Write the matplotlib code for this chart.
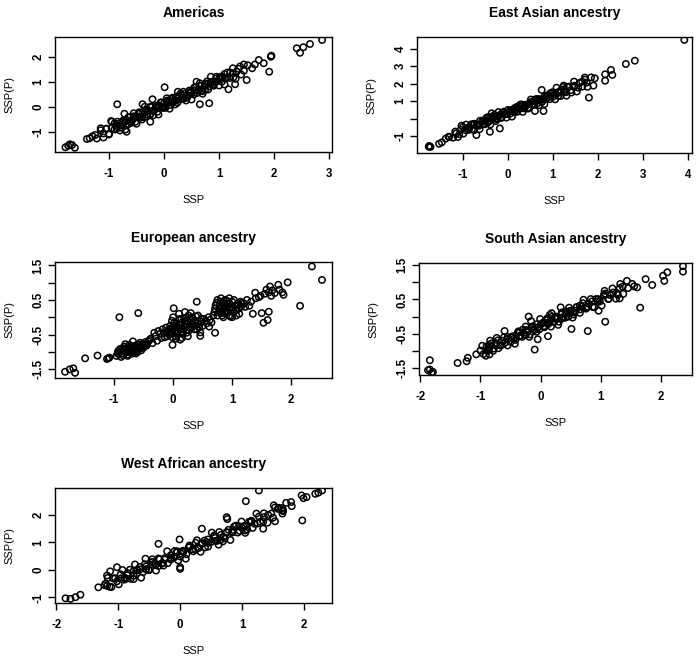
import matplotlib
matplotlib.use("Agg")
import matplotlib.pyplot as plt

plt.rcParams['font.family'] = ['Liberation Sans', 'DejaVu Sans']

# ---------------- data (SSP, SSP(P)) ----------------
americas = [(-1.30,-1.17),(-1.22,-1.26),(-1.15,-0.93),(-1.10,-1.06),(-1.05,-0.87),(-1.00,-1.07),(-0.95,-0.85),(-0.90,-0.66),(-0.86,-0.86),(-0.82,-0.67),(-0.78,-0.83),(-0.74,-0.54),(-0.70,-0.57),(-0.66,-0.70),(-0.62,-0.40),(-0.58,-0.54),(-0.55,-0.37),(-0.52,-0.59),(-0.48,-0.38),(-0.45,-0.21),(-0.42,-0.42),(-0.38,-0.23),(-0.35,-0.40),(-0.32,-0.12),(-0.28,-0.15),(-0.25,-0.29),(-0.22,0.00),(-0.18,-0.14),(-0.15,0.03),(-0.12,-0.19),(-0.09,0.01),(-0.06,0.18),(-0.03,-0.03),(0.00,0.15),(0.03,-0.02),(0.06,0.26),(0.09,0.22),(0.12,0.08),(0.15,0.37),(0.18,0.22),(0.21,0.39),(0.24,0.17),(0.27,0.37),(0.30,0.54),(0.34,0.34),(0.38,0.53),(0.42,0.37),(0.46,0.66),(0.50,0.63),(0.54,0.50),(0.58,0.80),(0.62,0.66),(0.66,0.84),(0.70,0.63),(0.74,0.84),(0.78,1.02),(0.82,0.82),(0.86,1.01),(0.90,0.85),(0.95,1.15),(1.00,1.13),(1.05,1.01),(1.10,1.32),(1.15,1.19),(1.20,1.38),(1.26,1.19),(1.32,1.42),(1.38,1.62),(1.45,1.45),(1.52,1.67),(1.60,1.55),
            (-0.80,-0.74),(-0.68,-0.52),(-0.60,-0.58),(-0.50,-0.39),(-0.40,-0.41),(-0.30,-0.16),(-0.20,-0.15),(-0.10,0.07),(0.01,0.04),(0.10,0.20),(0.20,0.26),(0.32,0.48),(0.44,0.46),(0.56,0.67),(0.68,0.67),(0.80,0.94),(0.92,0.97),(1.02,1.19),(1.12,1.15),(1.25,1.35),
            (-1.15,-0.85),(-1.10,-1.22),(-1.05,-0.87),(-1.00,-1.10),(-0.95,-0.59),(-0.90,-0.90),(-0.85,-0.59),(-0.80,-0.94),(-0.75,-0.62),(-0.70,-0.90),(-0.65,-0.42),(-0.60,-0.64),(-0.55,-0.25),(-0.50,-0.67),(-0.45,-0.27),(-0.40,-0.50),(-0.35,0.01),(-0.30,-0.30),(-0.25,0.01),(-0.20,-0.34),(-0.15,-0.02),(-0.10,-0.30),(-0.05,0.18),(0.00,-0.04),(0.05,0.35),(0.10,-0.07),(0.15,0.33),(0.20,0.10),(0.25,0.61),(0.30,0.30),(0.35,0.61),(0.40,0.26),(0.45,0.58),(0.50,0.30),(0.55,0.78),(0.60,0.56),(0.65,0.95),(0.70,0.53),(0.75,0.93),(0.80,0.70),(0.85,1.21),(0.90,0.90),(0.95,1.21),(1.00,0.86),(1.05,1.18),(1.10,0.90),(1.15,1.38),(1.20,1.16),(1.25,1.55),(1.30,1.13),(1.35,1.53),(1.40,1.30),(1.45,1.70),
            (-0.85,-0.77),(-0.75,-0.57),(-0.65,-0.67),(-0.55,-0.43),(-0.45,-0.42),(-0.35,-0.15),(-0.25,-0.30),(-0.15,0.00),(-0.05,0.01),(0.05,0.22),(0.15,0.23),(0.25,0.43),(0.35,0.33),(0.45,0.57),(0.55,0.58),(0.65,0.85),(0.75,0.70),(0.85,1.00),(0.95,1.01),(1.05,1.22),
            (2.87,2.68),(2.65,2.52),(2.53,2.39),(2.41,2.35),(2.47,2.17),(1.95,2.05),(1.94,2.01),(1.91,1.41),(1.72,1.88),(1.81,1.75),(1.65,1.70),(1.50,1.08),(1.17,0.71),(1.29,0.91),(0.59,1.01),(0.65,0.11),(0.82,0.15),(0.01,0.79),(-0.21,0.31),(-0.85,0.11),(-0.39,0.11),(-0.72,-0.27),(-0.96,-0.56),(-0.25,-0.59),(-0.68,-0.99),(-1.35,-1.25),(-1.25,-1.12),(-1.40,-1.28),(-1.71,-1.49),(-1.79,-1.61),(-1.62,-1.63),(-1.67,-1.52),(-1.74,-1.55)]

east_asian = [(-1.30,-1.05),(-1.22,-1.10),(-1.15,-0.85),(-1.08,-0.90),(-1.00,-0.49),(-0.93,-0.68),(-0.86,-0.49),(-0.80,-0.62),(-0.74,-0.30),(-0.68,-0.39),(-0.62,-0.13),(-0.56,-0.33),(-0.50,-0.10),(-0.45,-0.24),(-0.40,0.07),(-0.35,-0.04),(-0.30,0.21),(-0.25,0.00),(-0.20,0.17),(-0.15,0.03),(-0.10,0.34),(-0.05,0.24),(0.00,0.49),(0.05,0.28),(0.10,0.50),(0.15,0.36),(0.20,0.67),(0.25,0.56),(0.30,0.81),(0.35,0.60),(0.40,0.77),(0.45,0.63),(0.50,0.94),(0.55,0.84),(0.60,1.09),(0.65,0.88),(0.70,1.10),(0.76,0.97),(0.82,1.29),(0.88,1.19),(0.94,1.45),(1.00,1.25),(1.06,1.43),(1.12,1.30),(1.18,1.62),(1.25,1.54),(1.32,1.81),(1.40,1.63),(1.48,1.88),(1.56,1.77),(1.65,2.12),(1.75,2.06),(1.85,2.36),
              (-0.90,-0.57),(-0.77,-0.35),(-0.65,-0.37),(-0.53,-0.15),(-0.42,-0.16),(-0.32,0.11),(-0.22,0.09),(-0.12,0.33),(-0.02,0.27),(0.08,0.45),(0.18,0.51),(0.28,0.70),(0.38,0.66),(0.48,0.86),(0.58,0.84),(0.68,1.11),(0.79,1.10),(0.91,1.36),
              (-1.17,-0.75),(-1.11,-1.06),(-1.05,-0.65),(-0.99,-0.87),(-0.93,-0.35),(-0.87,-0.65),(-0.81,-0.33),(-0.75,-0.67),(-0.69,-0.34),(-0.63,-0.61),(-0.57,-0.12),(-0.51,-0.33),(-0.45,0.07),(-0.39,-0.34),(-0.33,0.07),(-0.27,-0.15),(-0.21,0.37),(-0.15,0.07),(-0.09,0.39),(-0.03,0.05),(0.03,0.38),(0.09,0.11),(0.15,0.60),(0.21,0.39),(0.27,0.79),(0.33,0.38),(0.39,0.79),(0.45,0.57),(0.51,1.09),(0.57,0.79),(0.63,1.11),(0.69,0.77),(0.75,1.10),(0.81,0.83),(0.87,1.32),(0.93,1.11),(0.99,1.51),(1.05,1.10),(1.11,1.51),(1.17,1.29),(1.23,1.81),(1.29,1.51),(1.35,1.83),(1.41,1.49),(1.47,1.82),(1.53,1.55),(1.59,2.04),(1.65,1.83),(1.71,2.23),(1.77,1.82),
              (-0.85,-0.52),(-0.75,-0.32),(-0.65,-0.42),(-0.55,-0.18),(-0.45,-0.17),(-0.35,0.10),(-0.25,-0.05),(-0.15,0.25),(-0.05,0.26),(0.05,0.47),(0.15,0.48),(0.25,0.68),(0.35,0.58),(0.45,0.82),(0.55,0.83),(0.65,1.10),(0.75,0.95),(0.85,1.25),(0.95,1.26),(1.05,1.47),(1.15,1.48),(1.25,1.68),
              (3.92,4.51),(2.82,3.32),(2.62,3.13),(2.29,2.79),(2.32,2.50),(2.16,2.54),(2.16,2.17),(1.93,2.31),(1.90,1.89),(1.80,1.20),(1.71,2.35),(1.47,2.12),(1.24,1.89),(1.30,1.31),(1.08,1.77),(0.75,1.64),(0.79,0.43),(0.60,0.43),(-0.18,-0.57),(-0.36,0.30),(-0.47,0.05),(-0.70,-0.95),(-0.40,-0.76),(-1.03,-0.41),(-1.47,-1.37),(-1.53,-1.45),(-1.76,-1.62),(-1.74,-1.60),(-1.72,-1.63),(-1.75,-1.58),(-1.38,-1.15),(-1.32,-1.05)]

european = [(-0.92,-1.05),(-0.88,-0.98),(-0.85,-1.10),(-0.82,-0.95),(-0.80,-1.02),(-0.78,-0.88),(-0.75,-1.00),(-0.72,-0.92),(-0.70,-1.06),(-0.68,-0.85),(-0.65,-0.95),(-0.62,-0.88),(-0.60,-1.00),(-0.58,-0.80),(-0.55,-0.90),(-0.52,-0.78),(-0.50,-0.88),(-0.47,-0.72),(-0.45,-0.82),(-0.42,-0.70),(-0.85,-0.90),(-0.76,-1.08),(-0.66,-1.02),(-0.74,-0.80),(-0.90,-0.92),(-0.96,-1.12),(-0.88,-1.15),(-0.68,-0.70),
            (-0.93,-0.98),(-0.87,-1.05),(-0.83,-0.85),(-0.79,-0.95),(-0.77,-1.12),(-0.73,-0.98),(-0.71,-0.84),(-0.69,-0.94),(-0.64,-0.82),(-0.61,-0.93),(-0.57,-0.86),(-0.54,-0.96),(-0.51,-0.83),(-0.48,-0.80),(-0.44,-0.76),(-0.40,-0.66),(-0.81,-0.78),(-0.63,-1.05),(-0.56,-0.74),(-0.94,-1.05),
            (-0.38,-0.62),(-0.35,-0.75),(-0.30,-0.55),(-0.27,-0.68),(-0.22,-0.48),(-0.20,-0.60),(-0.32,-0.45),(-0.25,-0.40),
            (-0.15,-0.45),(-0.12,-0.30),(-0.10,-0.55),(-0.08,-0.38),(-0.05,-0.25),(-0.03,-0.48),(0.00,-0.35),(0.02,-0.15),(0.04,-0.55),(0.06,-0.28),(0.08,-0.42),(0.10,-0.20),(0.12,-0.35),(0.14,-0.05),(0.16,-0.48),(0.18,-0.25),(0.20,-0.12),(0.22,-0.38),(0.24,-0.20),(0.26,0.05),(0.28,-0.30),(0.30,-0.15),(0.32,0.00),(0.35,-0.25),(0.38,-0.10),(0.40,-0.35),(0.42,0.05),(0.45,-0.20),(0.48,-0.05),(0.50,-0.25),(0.05,-0.62),(0.15,-0.60),(0.25,-0.55),(0.10,0.10),(0.20,0.15),(0.00,0.00),(-0.02,-0.10),(0.12,-0.65),(0.30,0.12),(0.55,-0.10),(0.60,0.00),(0.65,-0.15),
            (-0.18,-0.35),(-0.14,-0.58),(-0.11,-0.42),(-0.07,-0.50),(-0.04,-0.32),(-0.01,-0.58),(0.01,-0.25),(0.03,-0.40),(0.05,-0.18),(0.07,-0.48),(0.09,-0.30),(0.11,-0.05),(0.13,-0.45),(0.15,-0.15),(0.17,-0.35),(0.19,-0.02),(0.21,-0.28),(0.23,-0.45),(0.25,-0.10),(0.27,-0.38),(0.29,-0.05),(0.31,-0.28),(0.33,-0.18),(0.36,-0.35),(0.39,0.02),(0.41,-0.18),(0.44,-0.30),(0.47,-0.12),(0.52,-0.05),(0.57,-0.18),(0.62,-0.08),(0.68,0.05),
            (0.70,0.15),(0.72,0.35),(0.75,0.05),(0.78,0.25),(0.80,0.45),(0.82,0.12),(0.85,0.30),(0.88,0.50),(0.90,0.20),(0.92,0.38),(0.95,0.05),(0.97,0.28),(1.00,0.45),(1.02,0.15),(1.05,0.32),(1.08,0.22),(1.10,0.40),(1.12,0.10),(0.85,0.00),(0.95,0.55),(0.75,0.50),(1.00,0.00),(0.88,0.12),(1.15,0.30),
            (0.71,0.25),(0.74,0.42),(0.77,0.15),(0.79,0.35),(0.81,0.55),(0.84,0.20),(0.86,0.40),(0.89,0.28),(0.91,0.48),(0.93,0.15),(0.96,0.38),(0.98,0.20),(1.01,0.30),(1.03,0.50),(1.06,0.20),(1.09,0.35),(1.11,0.25),(1.14,0.45),(0.83,0.05),(0.97,0.02),(1.07,0.05),
            (1.20,0.40),(1.25,0.50),(1.32,0.45),(1.40,0.55),(1.48,0.62),(1.55,0.68),(1.62,0.72),(1.68,0.78),(1.72,0.70),(1.80,0.80),(1.85,0.72),(1.22,0.30),(1.58,0.80),(1.66,0.62),
            (2.35,1.47),(2.52,1.08),(2.15,0.33),(1.94,1.01),(1.64,0.89),(1.78,0.94),(1.87,0.65),(1.62,0.16),(1.50,0.12),(1.53,-0.16),(1.60,-0.08),(1.35,0.10),(1.29,0.33),(1.45,0.58),(1.39,0.71),(1.16,0.41),(0.71,-0.45),(0.61,-0.27),(0.40,0.45),(0.46,-0.54),(0.46,-0.44),(-0.01,-0.80),(0.01,0.26),(-0.59,0.12),(-0.91,0.00),(-1.28,-1.11),(-1.49,-1.19),(-1.10,-1.19),(-1.08,-1.17),(-1.12,-1.21),(-1.75,-1.51),(-1.83,-1.58),(-1.66,-1.61),(-1.69,-1.48)]

south_asian = [(-1.00,-0.99),(-0.95,-1.09),(-0.90,-0.87),(-0.86,-0.95),(-0.82,-0.78),(-0.78,-0.93),(-0.74,-0.82),(-0.70,-0.92),(-0.65,-0.70),(-0.60,-0.77),(-0.55,-0.59),(-0.50,-0.74),(-0.46,-0.57),(-0.42,-0.68),(-0.38,-0.47),(-0.34,-0.55),(-0.30,-0.38),(-0.26,-0.53),(-0.22,-0.42),(-0.18,-0.52),(-0.14,-0.31),(-0.10,-0.39),(-0.06,-0.22),(-0.02,-0.37),(0.02,-0.20),(0.06,-0.31),(0.10,-0.10),(0.14,-0.18),(0.18,-0.01),(0.22,-0.16),(0.26,-0.05),(0.30,-0.15),(0.34,0.06),(0.38,-0.02),(0.42,0.15),(0.46,0.00),(0.50,0.17),(0.55,0.06),(0.60,0.28),(0.65,0.21),(0.70,0.39),(0.75,0.25),(0.80,0.37),(0.86,0.28),(0.92,0.51),(0.98,0.44),(1.05,0.64),(1.12,0.51),(1.20,0.70),(1.28,0.63),(1.36,0.87),(1.45,0.83),(1.52,0.95),
               (-0.48,-0.61),(-0.36,-0.58),(-0.24,-0.39),(-0.12,-0.37),(0.00,-0.23),(0.12,-0.22),(0.24,-0.06),(0.36,-0.02),(0.48,0.16),(0.58,0.17),(0.68,0.29),(0.78,0.29),
               (-0.97,-0.85),(-0.91,-1.14),(-0.85,-0.83),(-0.79,-1.00),(-0.73,-0.62),(-0.67,-0.84),(-0.61,-0.60),(-0.55,-0.84),(-0.49,-0.60),(-0.43,-0.79),(-0.37,-0.43),(-0.31,-0.59),(-0.25,-0.29),(-0.19,-0.59),(-0.13,-0.28),(-0.07,-0.44),(-0.01,-0.07),(0.05,-0.28),(0.11,-0.05),(0.17,-0.29),(0.23,-0.04),(0.29,-0.24),(0.35,0.12),(0.41,-0.03),(0.47,0.26),(0.53,-0.03),(0.59,0.27),(0.65,0.11),(0.71,0.49),(0.77,0.27),(0.83,0.51),(0.89,0.27),(0.95,0.51),(1.01,0.32),(1.07,0.67),(1.13,0.52),(1.19,0.82),(1.25,0.52),(1.31,0.83),(1.37,0.66),(1.43,1.04),
               (-0.85,-0.91),(-0.75,-0.77),(-0.65,-0.83),(-0.55,-0.65),(-0.45,-0.65),(-0.35,-0.45),(-0.25,-0.54),(-0.15,-0.33),(-0.05,-0.32),(0.05,-0.16),(0.15,-0.14),(0.25,0.00),(0.35,-0.06),(0.45,0.12),(0.55,0.12),(0.65,0.32),(0.75,0.23),(0.85,0.44),(0.95,0.45),(1.05,0.61),(1.15,0.63),
               (2.36,1.47),(2.36,1.31),(2.10,1.29),(2.03,1.19),(2.05,1.04),(1.85,0.92),(1.74,1.09),(1.65,0.26),(1.55,0.88),(1.60,0.85),(1.32,0.95),(1.31,0.53),(1.27,0.68),(1.06,0.75),(1.07,-0.15),(0.96,0.17),(0.78,-0.42),(0.51,-0.36),(0.33,0.27),(-0.10,-0.96),(-0.05,-0.66),(0.12,-0.57),(-0.20,0.00),(-0.16,-0.13),(0.15,0.05),(0.18,0.10),(-0.60,-0.42),(-0.84,-0.70),(-0.71,-0.69),(-1.07,-1.10),(-1.21,-1.20),(-1.23,-1.30),(-1.38,-1.35),(-1.84,-1.27),(-1.84,-1.54),(-1.81,-1.64),(-1.87,-1.56),(-1.79,-1.61),(-0.88,-1.00),(-0.85,-1.10)]

west_african = [(-1.20,-0.49),(-1.14,-0.61),(-1.08,-0.31),(-1.02,-0.41),(-0.96,-0.16),(-0.90,-0.35),(-0.85,-0.19),(-0.80,-0.32),(-0.75,-0.03),(-0.70,-0.13),(-0.65,0.11),(-0.60,-0.08),(-0.55,0.13),(-0.50,0.00),(-0.45,0.29),(-0.40,0.18),(-0.35,0.42),(-0.30,0.23),(-0.25,0.38),(-0.20,0.25),(-0.15,0.54),(-0.10,0.45),(-0.05,0.68),(0.00,0.49),(0.05,0.70),(0.10,0.57),(0.15,0.86),(0.20,0.75),(0.25,0.99),(0.30,0.80),(0.35,0.95),(0.40,0.82),(0.45,1.11),(0.50,1.02),(0.55,1.25),(0.60,1.06),(0.66,1.28),(0.72,1.15),(0.78,1.46),(0.84,1.36),(0.90,1.61),(0.96,1.42),(1.02,1.59),(1.08,1.47),(1.14,1.76),(1.20,1.68),(1.27,1.94),(1.34,1.76),(1.42,2.00),(1.50,1.90),(1.58,2.22),(1.66,2.14),
                (-0.90,-0.28),(-0.70,0.00),(-0.55,0.02),(-0.42,0.23),(-0.28,0.25),(-0.14,0.53),(0.02,0.59),(0.14,0.82),(0.28,0.82),(0.42,1.02),(0.56,1.17),(0.70,1.20),(0.85,1.46),(1.00,1.53),
                (-1.17,-0.29),(-1.11,-0.62),(-1.05,-0.30),(-0.99,-0.52),(-0.93,0.00),(-0.87,-0.31),(-0.81,0.01),(-0.75,-0.33),(-0.69,-0.01),(-0.63,-0.28),(-0.57,0.21),(-0.51,0.00),(-0.45,0.39),(-0.39,-0.02),(-0.33,0.39),(-0.27,0.16),(-0.21,0.68),(-0.15,0.38),(-0.09,0.69),(-0.03,0.35),(0.03,0.68),(0.09,0.41),(0.15,0.89),(0.21,0.68),(0.27,1.08),(0.33,0.66),(0.39,1.07),(0.45,0.85),(0.51,1.36),(0.57,1.06),(0.63,1.38),(0.69,1.04),(0.75,1.36),(0.81,1.09),(0.87,1.58),(0.93,1.36),(0.99,1.76),(1.05,1.35),(1.11,1.75),(1.17,1.53),(1.23,2.05),(1.29,1.75),(1.35,2.06),(1.41,1.72),(1.47,2.05),(1.53,1.77),(1.59,2.26),(1.65,2.05),(1.71,2.44),
                (-0.95,-0.30),(-0.85,-0.11),(-0.75,-0.21),(-0.65,0.02),(-0.55,0.03),(-0.45,0.29),(-0.35,0.14),(-0.25,0.43),(-0.15,0.44),(-0.05,0.64),(0.05,0.65),(0.15,0.84),(0.25,0.74),(0.35,0.97),(0.45,0.98),(0.55,1.24),(0.65,1.09),(0.75,1.38),(0.85,1.39),(0.95,1.59),(1.05,1.60),(1.15,1.79),(1.25,1.69),(1.35,1.92),
                (1.27,2.89),(1.06,2.50),(2.29,2.89),(2.23,2.81),(2.18,2.77),(1.96,2.71),(2.04,2.65),(1.99,2.61),(1.97,1.80),(1.79,2.47),(1.80,2.32),(1.64,2.25),(1.66,2.18),(1.51,2.35),(1.53,2.27),(1.34,1.50),(1.05,1.44),(0.75,1.92),(0.76,1.85),(0.62,0.92),(0.35,1.50),(0.00,0.04),(0.00,0.10),(-0.01,1.11),(-0.35,0.95),(-0.56,0.41),(-0.73,0.20),(-1.02,0.10),(-1.13,-0.05),(-1.18,-0.20),(-1.32,-0.63),(-1.61,-0.90),(-1.69,-0.99),(-1.77,-1.05),(-1.85,-1.03),(-1.22,-0.55),(-1.18,-0.58)]

titles = ["Americas", "East Asian ancestry", "European ancestry",
          "South Asian ancestry", "West African ancestry"]
datasets = [americas, east_asian, european, south_asian, west_african]
x_ticks = [[-1, 0, 1, 2, 3], [-1, 0, 1, 2, 3, 4], [-1, 0, 1, 2],
           [-2, -1, 0, 1, 2], [-2, -1, 0, 1, 2]]
y_ticks = [[-1, 0, 1, 2], [-1, 0, 1, 2, 3, 4],
           [-1.5, -1.0, -0.5, 0.0, 0.5, 1.0, 1.5],
           [-1.5, -1.0, -0.5, 0.0, 0.5, 1.0, 1.5], [-1, 0, 1, 2]]
y_tick_labels = [["-1", "0", "1", "2"], ["-1", "", "1", "2", "3", "4"],
                 ["-1.5", "", "-0.5", "", "0.5", "", "1.5"],
                 ["-1.5", "", "-0.5", "", "0.5", "", "1.5"],
                 ["-1", "0", "1", "2"]]
x_limits = [(-1.98, 3.05), (-2.02, 4.09), (-2.00, 2.69), (-2.02, 2.51), (-2.02, 2.45)]
y_limits = [(-1.80, 2.80), (-1.98, 4.68), (-1.76, 1.60), (-1.70, 1.56), (-1.20, 2.98)]

# axes boxes in pixels: left, top, right, bottom
W, H = 698, 661
boxes = [(55, 37, 332, 152), (417, 37, 692, 153), (55, 262, 332, 378),
         (419, 263, 692, 375), (55, 488, 332, 603)]

fig = plt.figure(figsize=(W / 100, H / 100), dpi=100)
for i, (pts, title) in enumerate(zip(datasets, titles)):
    l, t, r, b = boxes[i]
    ax = fig.add_axes([l / W, 1 - b / H, (r - l) / W, (b - t) / H])
    xs = [p[0] for p in pts]
    ys = [p[1] for p in pts]
    ax.scatter(xs, ys, s=21, facecolors='none', edgecolors='#000000',
               linewidths=1.1, zorder=3)
    ax.set_xlim(*x_limits[i])
    ax.set_ylim(*y_limits[i])
    ax.set_xticks(x_ticks[i])
    ax.set_xticklabels([str(v) for v in x_ticks[i]], fontsize=8.3, fontweight='bold')
    ax.set_yticks(y_ticks[i])
    ax.set_yticklabels(y_tick_labels[i], fontsize=8.3, fontweight='bold',
                       rotation=90, va='center')
    ax.tick_params(axis='x', direction='out', length=5, width=1.0, pad=6.5)
    ax.tick_params(axis='y', direction='out', length=5, width=1.0, pad=2.5)
    for sp in ax.spines.values():
        sp.set_linewidth(1.0)
    ax.set_title(title, fontsize=10, fontweight='bold', pad=14.5)
    ax.annotate("SSP", xy=(0.5, 0), xycoords='axes fraction',
                xytext=(0, -34.5), textcoords='offset points',
                ha='center', va='center', fontsize=8)
    ax.annotate("SSP(P)", xy=(0, 0.5), xycoords='axes fraction',
                xytext=(-33, 0), textcoords='offset points',
                ha='center', va='center', rotation=90, fontsize=8)

fig.savefig("out.png", dpi=100)
